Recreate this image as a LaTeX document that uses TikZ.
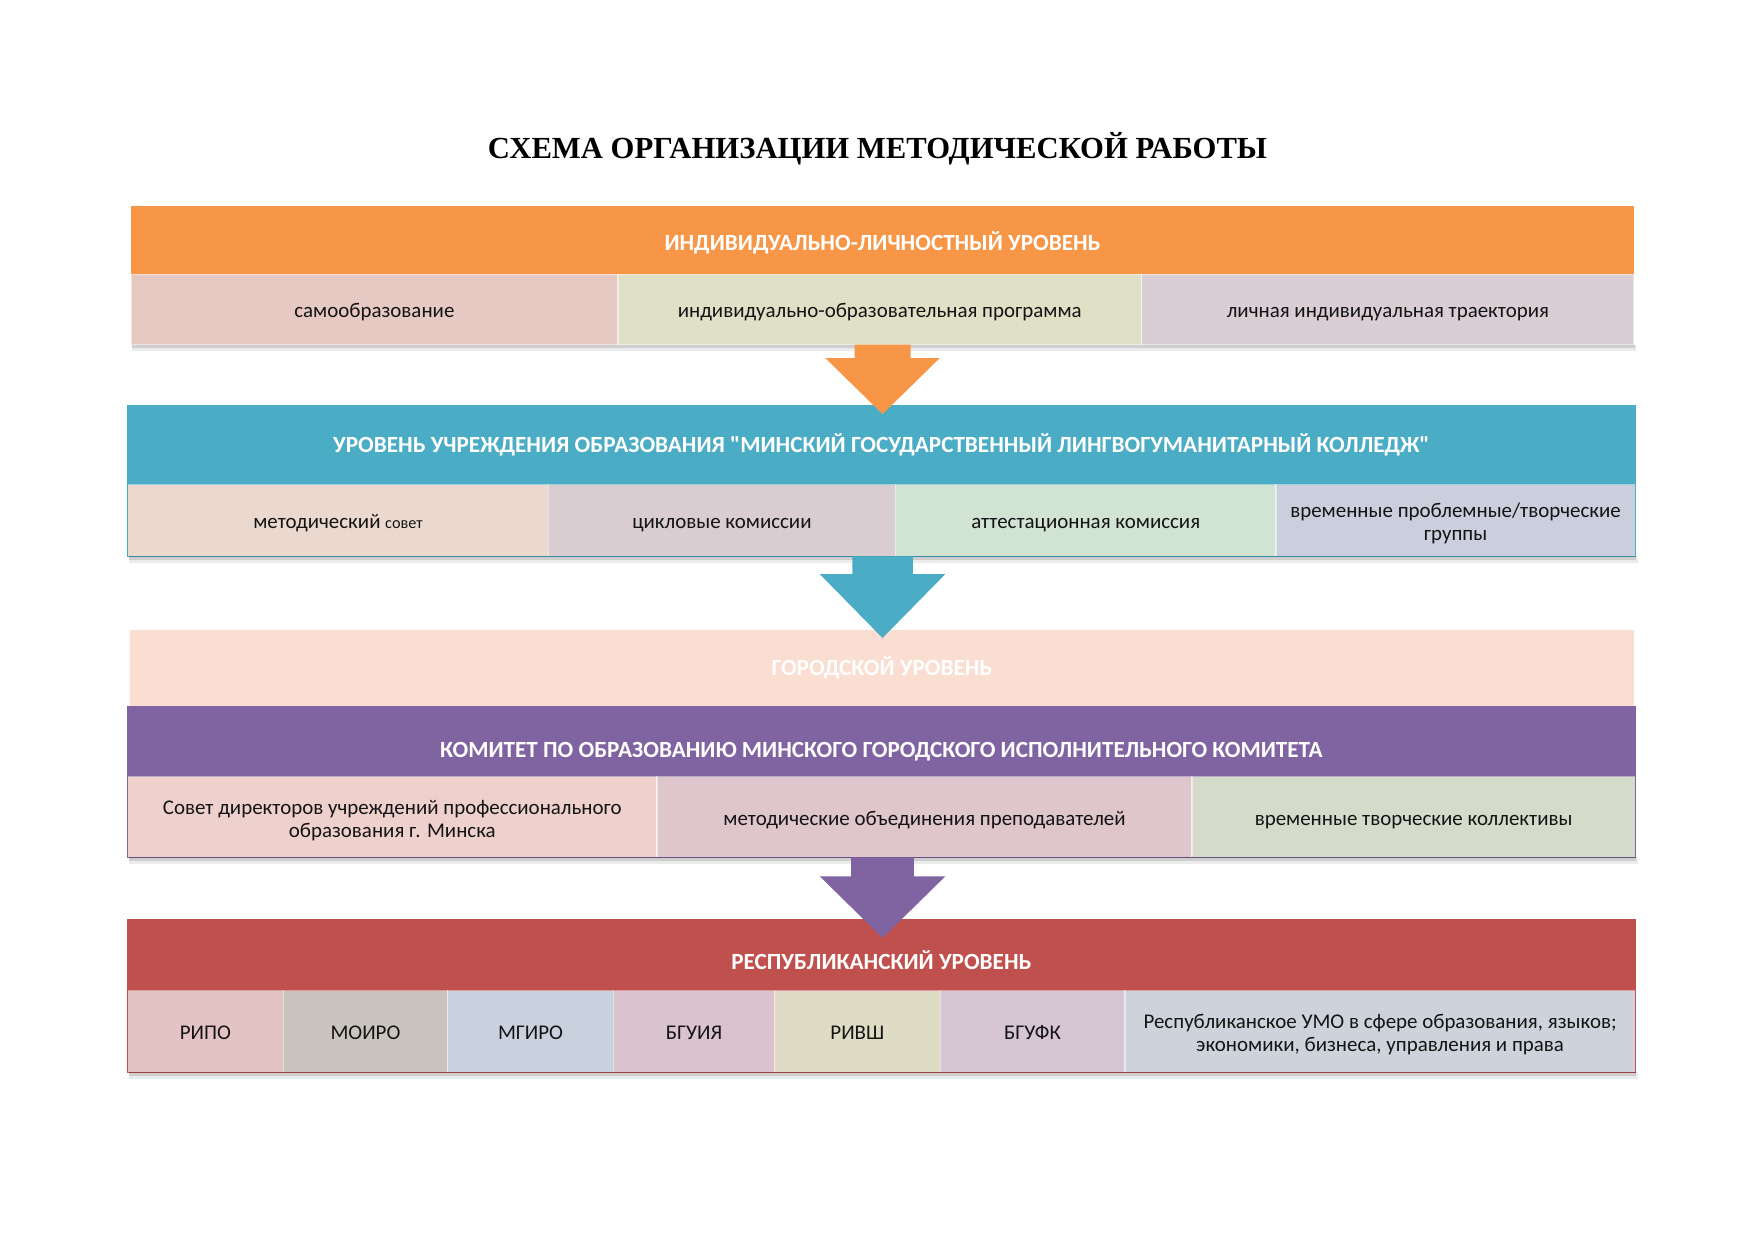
\documentclass[tikz,border=0pt]{standalone}
\usepackage{fontspec}
\setmainfont{Carlito}[Ligatures=TeXOff]
\newfontfamily\titlefont{Liberation Serif}
\usetikzlibrary{calc}
\definecolor{corange}{HTML}{F79646}
\definecolor{cteal}{HTML}{4BACC6}
\definecolor{cpeach}{HTML}{FADED2}
\definecolor{cpurple}{HTML}{8064A2}
\definecolor{cred}{HTML}{C0504D}
\definecolor{c11}{HTML}{E6C9C3}
\definecolor{c12}{HTML}{E0E0C6}
\definecolor{c13}{HTML}{DACED5}
\definecolor{c21}{HTML}{EBD9CF}
\definecolor{c22}{HTML}{D9CDD1}
\definecolor{c23}{HTML}{D1E3D2}
\definecolor{c24}{HTML}{CBCEDD}
\definecolor{c31}{HTML}{EED1CD}
\definecolor{c32}{HTML}{DFC5CC}
\definecolor{c33}{HTML}{D5DBCB}
\definecolor{c41}{HTML}{E3C3C3}
\definecolor{c42}{HTML}{C9C4BE}
\definecolor{c43}{HTML}{C9D0DE}
\definecolor{c44}{HTML}{DBC2CF}
\definecolor{c45}{HTML}{DEDCC4}
\definecolor{c46}{HTML}{D6C5D3}
\definecolor{c47}{HTML}{CDD3DB}
\newcommand\blkarrow[6]{% colour, start, shaft half, shaft length, head half, tip
  \fill[#1] ($(#2)+(-#3,0)$) -- ($(#2)+(#3,0)$) -- ($(#2)+(#3,#4)$) -- ($(#2)+(#5,#4)$)
    -- (#6) -- ($(#2)+(-#5,#4)$) -- ($(#2)+(-#3,#4)$) -- cycle;}
\newcommand\blkshadow[2]{%
  \fill[black,opacity=0.08] ($(#1)+(1,0)$) rectangle ($(#2)+(2,6)$);
  \fill[black,opacity=0.12] ($(#1)+(1,0)$) rectangle ($(#2)+(1,3)$);}
\newcommand\tl{\rule{0pt}{19pt}}
\begin{document}
\begin{tikzpicture}[x=1pt,y=-1pt,
  hdr/.style={anchor=north west, inner sep=0pt, outer sep=0pt, text=white,
    font=\fontsize{20.7}{24}\selectfont\bfseries, align=center, text depth=0pt},
  cell/.style={anchor=north west, inner sep=0pt, outer sep=0pt, draw=white,
    draw opacity=0.45, line width=1.2pt, text=black!92,
    font=\fontsize{18.7}{21.5}\selectfont, align=center},
  one/.style={text height=18.5pt, text depth=4.2pt}]
\useasboundingbox[fill=white] (0,0) rectangle (1568,1108.7);

\node[font=\titlefont\bfseries\fontsize{27.4}{32}\selectfont] (title) at (784,133) {СХЕМА ОРГАНИЗАЦИИ МЕТОДИЧЕСКОЙ РАБОТЫ};

% block 1
\node[hdr, fill=corange, minimum width=1343pt, minimum height=61pt, text height=19pt] (h1) at (117,184) {ИНДИВИДУАЛЬНО-ЛИЧНОСТНЫЙ УРОВЕНЬ};
\node[cell, one, fill=c11, minimum width=435pt, minimum height=63pt] (c11) at (117,245) {самообразование};
\node[cell, one, fill=c12, minimum width=468pt, minimum height=63pt] (c12) at (552,245) {индивидуально-образовательная программа};
\node[cell, one, fill=c13, minimum width=440pt, minimum height=63pt] (c13) at (1020,245) {личная индивидуальная траектория};
\blkshadow{c11.south west}{c13.south east}

% block 2
\node[hdr, fill=cteal, minimum width=1347pt, minimum height=71pt, text height=13.3pt] (h2) at (114,362) {УРОВЕНЬ УЧРЕЖДЕНИЯ ОБРАЗОВАНИЯ "МИНСКИЙ ГОСУДАРСТВЕННЫЙ ЛИНГВОГУМАНИТАРНЫЙ КОЛЛЕДЖ"};
\node[cell, one, fill=c21, minimum width=376pt, minimum height=64pt] (c21) at (114,433) {методический {\fontsize{14.5}{16}\selectfont совет}};
\node[cell, one, fill=c22, minimum width=310pt, minimum height=64pt] (c22) at (490,433) {цикловые комиссии};
\node[cell, one, fill=c23, minimum width=340pt, minimum height=64pt] (c23) at (800,433) {аттестационная комиссия};
\node[cell, fill=c24, minimum width=321pt, minimum height=64pt] (c24) at (1140,433) {\tl временные проблемные/творческие\\[-1pt]группы};
\draw[cteal, line width=1pt] (h2.north west) rectangle (c24.south east);
\blkshadow{c21.south west}{c24.south east}

% block 3
\node[hdr, fill=cpeach, minimum width=1344pt, minimum height=68pt, text height=13.3pt] (g3) at (116,563) {ГОРОДСКОЙ УРОВЕНЬ};
\node[hdr, fill=cpurple, minimum width=1347pt, minimum height=63pt, text height=28pt] (h3) at (114,631) {КОМИТЕТ ПО ОБРАЗОВАНИЮ МИНСКОГО ГОРОДСКОГО ИСПОЛНИТЕЛЬНОГО КОМИТЕТА};
\node[cell, fill=c31, minimum width=473pt, minimum height=72pt] (c31) at (114,694) {\tl Совет директоров учреждений профессионального\\[-1pt]образования г. Минска};
\node[cell, one, fill=c32, minimum width=478pt, minimum height=72pt] (c32) at (587,694) {методические объединения преподавателей};
\node[cell, one, fill=c33, minimum width=396pt, minimum height=72pt] (c33) at (1065,694) {временные творческие коллективы};
\draw[cpurple, line width=1pt] (h3.north west) rectangle (c33.south east);
\blkshadow{c31.south west}{c33.south east}

% block 4
\node[hdr, fill=cred, minimum width=1347pt, minimum height=63pt, text height=24.5pt] (h4) at (114,822) {РЕСПУБЛИКАНСКИЙ УРОВЕНЬ};
\node[cell, one, fill=c41, minimum width=139pt, minimum height=73pt] (c41) at (114,885) {РИПО};
\node[cell, one, fill=c42, minimum width=147pt, minimum height=73pt] (c42) at (253,885) {МОИРО};
\node[cell, one, fill=c43, minimum width=148pt, minimum height=73pt] (c43) at (400,885) {МГИРО};
\node[cell, one, fill=c44, minimum width=144pt, minimum height=73pt] (c44) at (548,885) {БГУИЯ};
\node[cell, one, fill=c45, minimum width=148pt, minimum height=73pt] (c45) at (692,885) {РИВШ};
\node[cell, one, fill=c46, minimum width=165pt, minimum height=73pt] (c46) at (840,885) {БГУФК};
\node[cell, fill=c47, minimum width=456pt, minimum height=73pt] (c47) at (1005,885) {\tl Республиканское УМО в сфере образования, языков;\\[-1pt]экономики, бизнеса, управления и права};
\draw[cred, line width=1pt] (h4.north west) rectangle (c47.south east);
\blkshadow{c41.south west}{c47.south east}

% arrows
\coordinate (a1s) at (h1.center |- c12.south);
\coordinate (a1t) at ($(h1.center |- h2.north)+(0,8)$);
\blkarrow{corange}{a1s}{25}{12}{51}{a1t}
\coordinate (a2s) at (h1.center |- c23.south);
\coordinate (a2t) at ($(h1.center |- g3.north)+(0,7)$);
\blkarrow{cteal}{a2s}{27}{16}{56}{a2t}
\coordinate (a3s) at (h1.center |- c32.south);
\coordinate (a3t) at ($(h1.center |- h4.north)+(0,16)$);
\blkarrow{cpurple}{a3s}{28}{17}{56}{a3t}
\end{tikzpicture}
\end{document}
